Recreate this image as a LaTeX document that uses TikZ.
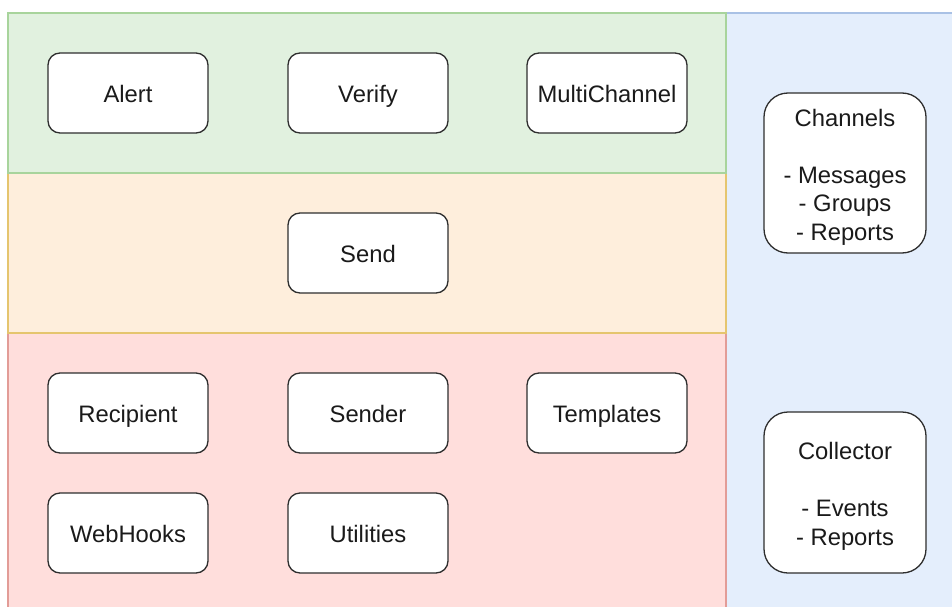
\documentclass[tikz,border=0pt]{standalone}
\usepackage{fontspec}
\setmainfont{Liberation Sans}
\definecolor{grnfill}{HTML}{E1F1DF}
\definecolor{grnline}{HTML}{A8D49C}
\definecolor{orgfill}{HTML}{FEEEDC}
\definecolor{orgline}{HTML}{E5C56E}
\definecolor{redfill}{HTML}{FFDEDC}
\definecolor{redline}{HTML}{E29C97}
\definecolor{blufill}{HTML}{E4EEFC}
\definecolor{bluline}{HTML}{A9C1E5}
\definecolor{boxline}{HTML}{2E2E2E}
\definecolor{txt}{HTML}{1A1A1A}
% invisible strut that pushes multi-line labels slightly down
\newcommand{\toppad}{\rule{0pt}{25pt}}
\tikzset{
  layerbox/.style={line width=1.2pt},
  boxbase/.style={draw=boxline, fill=white, line width=1.3pt, rounded corners=12pt,
    minimum width=160pt, minimum height=80pt, inner sep=0pt,
    text=txt, font=\fontsize{23.8}{28.5}\selectfont, align=center},
  module/.style={boxbase, text height=20pt, text depth=1pt},
  tall/.style={boxbase, minimum width=162pt, minimum height=160pt, rounded corners=24pt}
}
\begin{document}
\begin{tikzpicture}[x=1pt,y=-1pt]
  \useasboundingbox (0,0) rectangle (952,607);
  \clip (0,0) rectangle (952,607);
  % background layers
  \draw[layerbox, fill=blufill, draw=bluline] (726,13) rectangle (970,625);
  \draw[layerbox, fill=redfill, draw=redline] (8,333) rectangle (726,625);
  \draw[layerbox, fill=orgfill, draw=orgline] (8,173) rectangle (726,333);
  \draw[layerbox, fill=grnfill, draw=grnline] (8,13) rectangle (726,173);
  % top layer
  \node[module] (alert) at (128,93) {Alert};
  \node[module] (verify) at (368,93) {Verify};
  \node[module] (multi) at (607,93) {MultiChannel};
  % middle layer
  \node[module] (send) at (368,253) {Send};
  % bottom layer
  \node[module] (recipient) at (128,413) {Recipient};
  \node[module] (sender) at (368,413) {Sender};
  \node[module] (templates) at (607,413) {Templates};
  \node[module] (webhooks) at (128,533) {WebHooks};
  \node[module] (utilities) at (368,533) {Utilities};
  % side column
  \node[tall] (channels) at (845,173) {\toppad Channels\\[28.5pt]- Messages\\- Groups\\- Reports};
  \node[tall, minimum height=161pt] (collector) at (845,492.5) {\toppad Collector\\[28.5pt]- Events\\- Reports};
\end{tikzpicture}
\end{document}
